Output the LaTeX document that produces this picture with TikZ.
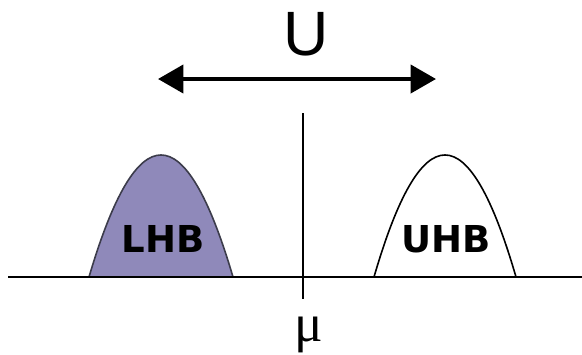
\documentclass[tikz,border=0pt]{standalone}
\usepackage{fontspec}
\setmainfont{Liberation Sans}
\newfontfamily\bandfont{DejaVu Sans}
\newfontfamily\mufont{Liberation Serif}
\usetikzlibrary{arrows.meta}
\definecolor{lhbfill}{RGB}{143,137,186}
\definecolor{lhbline}{RGB}{60,60,75}
\tikzset{
  bandlbl/.style={font=\bandfont\fontsize{27.8pt}{30pt}\selectfont\bfseries, inner sep=0pt, anchor=base},
  axisline/.style={line width=1.5pt, black},
  bandline/.style={line width=1.2pt},
  bigarrow/.style={line width=3pt, {Triangle[length=19pt,width=21pt]}-{Triangle[length=19pt,width=21pt]}}
}
\begin{document}
\begin{tikzpicture}[x=0.75pt,y=-0.75pt]
\useasboundingbox (0,0) rectangle (582,354);
% bands
\draw[bandline, fill=lhbfill, draw=lhbline] (89,277) .. controls (137,114.3) and (185,114.3) .. (233,277);
\draw[bandline, fill=white, draw=black] (374,277) .. controls (421.3,114.3) and (468.7,114.3) .. (516,277);
% axes
\coordinate (bl) at (8,277);
\coordinate (br) at (582,277);
\coordinate (vt) at (303,113);
\coordinate (vb) at (303,299);
\draw[axisline] (bl) -- (br);
\draw[axisline] (vt) -- (vb);
% labels
\node[bandlbl] (lhb) at (163,252) {LHB};
\node[bandlbl] (uhb) at (446,252) {UHB};
\node[font=\fontsize{47pt}{50pt}\selectfont, inner sep=0pt, anchor=base] (u) at (306,55) {U};
\node[font=\mufont\fontsize{40pt}{44pt}\selectfont, inner sep=0pt, anchor=base] (mu) at (309,341) {μ};
% arrow
\coordinate (al) at (158,79);
\coordinate (ar) at (436,79);
\draw[bigarrow] (al) -- (ar);
\end{tikzpicture}
\end{document}
